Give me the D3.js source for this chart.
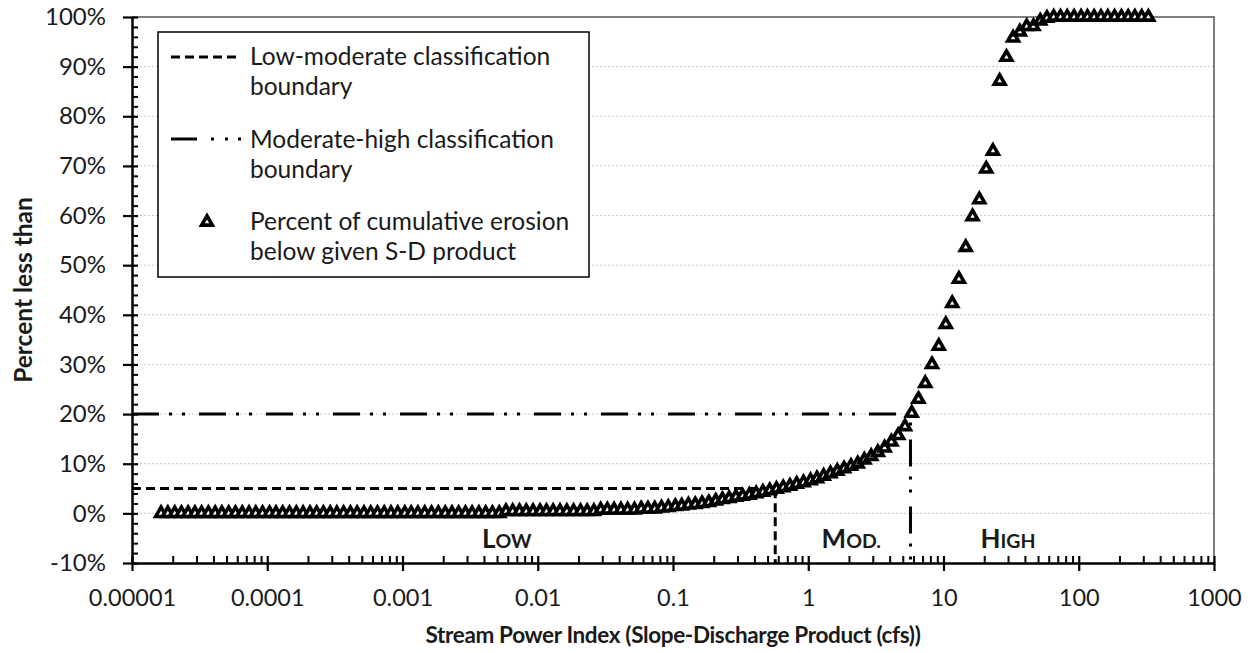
<!DOCTYPE html>
<html>
<head>
<meta charset="utf-8">
<script src="https://cdn.jsdelivr.net/npm/d3@7"></script>
<style>
  body { margin: 0; background: #fff; }
  svg { display: block; font-family: Lato, "Open Sans", sans-serif; }
</style>
</head>
<body>
<svg id="chart" width="1253" height="653"></svg>
<script>
// stream power index (cfs), one point every 0.05 decade
const xValues = [
  1.64e-5, 1.84e-5, 2.07e-5, 2.32e-5, 2.6e-5, 2.92e-5, 3.27e-5, 3.67e-5, 4.12e-5, 4.62e-5,
  5.19e-5, 5.82e-5, 6.53e-5, 7.33e-5, 8.22e-5, 9.23e-5,
  1.04e-4, 1.16e-4, 1.3e-4, 1.46e-4, 1.64e-4, 1.84e-4, 2.07e-4, 2.32e-4, 2.6e-4, 2.92e-4,
  3.27e-4, 3.67e-4, 4.12e-4, 4.62e-4, 5.19e-4, 5.82e-4, 6.53e-4, 7.33e-4, 8.22e-4, 9.23e-4,
  1.04e-3, 1.16e-3, 1.3e-3, 1.46e-3, 1.64e-3, 1.84e-3, 2.07e-3, 2.32e-3, 2.6e-3, 2.92e-3,
  3.27e-3, 3.67e-3, 4.12e-3, 4.62e-3, 5.19e-3, 5.82e-3, 6.53e-3, 7.33e-3, 8.22e-3, 9.23e-3,
  1.04e-2, 1.16e-2, 1.3e-2, 1.46e-2, 1.64e-2, 1.84e-2, 2.07e-2, 2.32e-2, 2.6e-2, 2.92e-2,
  3.27e-2, 3.67e-2, 4.12e-2, 4.62e-2, 5.19e-2, 5.82e-2, 6.53e-2, 7.33e-2, 8.22e-2, 9.23e-2,
  0.104, 0.116, 0.13, 0.146, 0.164, 0.184, 0.207, 0.232, 0.26, 0.292,
  0.327, 0.367, 0.412, 0.462, 0.519, 0.582, 0.653, 0.733, 0.822, 0.923,
  1.04, 1.16, 1.3, 1.46, 1.64, 1.84, 2.07, 2.32, 2.6, 2.92,
  3.27, 3.67, 4.12, 4.62, 5.19, 5.82, 6.53, 7.33, 8.22, 9.23,
  10.4, 11.6, 13, 14.6, 16.4, 18.4, 20.7, 23.2, 26, 29.2,
  32.7, 36.7, 41.2, 46.2, 51.9, 58.2, 65.3, 73.3, 82.2, 92.3,
  104, 116, 130, 146, 164, 184, 207, 232, 260, 292, 327
];

// percent of cumulative erosion below the given S-D product
const pctValues = [
  0, 0, 0, 0, 0, 0, 0, 0, 0, 0,
  0, 0, 0, 0, 0, 0, 0, 0, 0, 0,
  0, 0, 0, 0, 0, 0, 0, 0, 0, 0,
  0, 0, 0, 0, 0, 0, 0, 0, 0, 0,
  0, 0, 0, 0, 0, 0, 0, 0, 0, 0,
  0, 0.4, 0.4, 0.4, 0.4, 0.4, 0.4, 0.4, 0.4, 0.4,
  0.4, 0.4, 0.4, 0.4, 0.4, 0.7, 0.7, 0.7, 0.7, 0.7,
  0.7, 0.9, 0.9, 0.9, 1.1, 1.2, 1.4, 1.5, 1.7, 1.8,
  2.0, 2.2, 2.5, 2.8, 3.0, 3.3, 3.5, 3.7, 4.0, 4.3,
  4.6, 4.9, 5.2, 5.5, 5.9, 6.2, 6.6, 7.0, 7.5, 8.0,
  8.5, 9.0, 9.5, 10.0, 10.8, 11.5, 12.3, 13.2, 14.4, 15.7,
  17.5, 20.2, 23.0, 26.2, 30.0, 33.7, 38.1, 42.3, 47.2, 53.6,
  59.8, 63.2, 69.4, 73.0, 87.1, 91.9, 95.8, 97.0, 98.1, 98.1,
  99.2, 99.8, 100, 100, 100, 100, 100, 100, 100, 100,
  100, 100, 100, 100, 100, 100, 100
];

const xTickValues = [1e-5, 1e-4, 1e-3, 1e-2, 1e-1, 1, 10, 100, 1000];
const xTickLabels = ["0.00001", "0.0001", "0.001", "0.01", "0.1", "1", "10", "100", "1000"];
const yTickValues = [-10, 0, 10, 20, 30, 40, 50, 60, 70, 80, 90, 100];

// classification boundaries (S-D product, percent)
const boundaryNames = ["Low-moderate", "Moderate-high"];
const boundaryX = [0.57, 5.7];
const boundaryY = [5, 20];

// zone labels (small caps: first letter + rest)
const zoneFirst = ["L", "M", "H"];
const zoneRest = ["OW", "OD.", "IGH"];
const zoneX = [0.0059, 2.08, 30];
const zoneY = [-7, -7, -7];

const legendLines = [
  ["Low-moderate classification", "boundary"],
  ["Moderate-high classification", "boundary"],
  ["Percent of cumulative erosion", "below given S-D product"]
];

const width = 1253;
const height = 653;
const margin = { top: 17, right: 39, bottom: 90, left: 132 };
const plotW = width - margin.left - margin.right;
const plotH = height - margin.top - margin.bottom;

const textColor = "#1a1a1a";
const dashStyles = ["9,5", "27,10,3,10,3,14"];

const svg = d3.select("#chart");
svg.append("rect").attr("width", width).attr("height", height).attr("fill", "#fff");

const g = svg.append("g").attr("transform", `translate(${margin.left},${margin.top})`);

const x = d3.scaleLog().domain([1e-5, 1e3]).range([0, plotW]);
const y = d3.scaleLinear().domain([-10, 100]).range([plotH, 0]);

// horizontal gridlines
g.append("g")
  .selectAll("line")
  .data(yTickValues.filter((v) => v > -10 && v < 100))
  .join("line")
  .attr("x1", 0)
  .attr("x2", plotW)
  .attr("y1", (d) => y(d))
  .attr("y2", (d) => y(d))
  .attr("stroke", "#c4c4c4")
  .attr("stroke-width", 1)
  .attr("stroke-dasharray", "2,2");

// plot frame, top and right
g.append("path")
  .attr("d", `M0,${y(100)}H${plotW}V${plotH}`)
  .attr("fill", "none")
  .attr("stroke", "#555")
  .attr("stroke-width", 1.5);

// boundary lines
g.append("g")
  .selectAll("path")
  .data(boundaryNames)
  .join("path")
  .attr("d", (d, i) => `M${x(1e-5)},${y(boundaryY[i])}H${x(boundaryX[i])}V${y(-10)}`)
  .attr("fill", "none")
  .attr("stroke", "#000")
  .attr("stroke-width", 3)
  .attr("stroke-dasharray", (d, i) => dashStyles[i]);

// zone labels
const zones = g.append("g")
  .selectAll("text")
  .data(zoneFirst)
  .join("text")
  .attr("x", (d, i) => x(zoneX[i]))
  .attr("y", (d, i) => y(zoneY[i]))
  .attr("text-anchor", "middle")
  .attr("font-weight", "bold")
  .attr("fill", textColor);
zones.append("tspan").attr("font-size", 26).text((d) => d);
zones.append("tspan").attr("font-size", 19.5).text((d, i) => zoneRest[i]);

// triangles
const tri = d3.symbol().type(d3.symbolTriangle).size(50);
g.append("g")
  .selectAll("path")
  .data(pctValues)
  .join("path")
  .attr("d", tri)
  .attr("transform", (d, i) => `translate(${x(xValues[i])},${y(d)})`)
  .attr("fill", "#fff")
  .attr("stroke", "#000")
  .attr("stroke-width", 3.6);

// x axis
const xMinor = [];
xTickValues.slice(0, -1).forEach((d) => {
  for (let m = 2; m < 10; m++) xMinor.push(d * m);
});

g.append("g")
  .attr("transform", `translate(0,${plotH})`)
  .call(d3.axisTop(x).tickValues(xMinor).tickSize(7).tickFormat(""))
  .call((a) => a.select(".domain").remove())
  .selectAll("line")
  .attr("stroke", "#000")
  .attr("stroke-width", 2);

const xAxis = g.append("g")
  .attr("transform", `translate(0,${plotH})`)
  .call(d3.axisBottom(x).tickValues(xTickValues).tickFormat((d, i) => xTickLabels[i]).tickSize(8).tickSizeOuter(0));
xAxis.select(".domain").attr("stroke", "#000").attr("stroke-width", 2.5);
xAxis.selectAll(".tick line").attr("y1", -7).attr("stroke", "#000").attr("stroke-width", 2.2);
xAxis.selectAll(".tick text")
  .attr("y", 43)
  .attr("dy", 0)
  .attr("font-size", 23.5)
  .attr("font-family", "Lato, sans-serif")
  .attr("fill", textColor);

// y axis
const yMinor = d3.range(-10, 100, 2).filter((v) => v % 10 !== 0);
g.append("g")
  .call(d3.axisRight(y).tickValues(yMinor).tickSize(6).tickFormat(""))
  .call((a) => a.select(".domain").remove())
  .selectAll("line")
  .attr("stroke", "#000")
  .attr("stroke-width", 2);

const yAxis = g.append("g")
  .call(d3.axisLeft(y).tickValues(yTickValues).tickFormat((d) => d + "%").tickSize(9).tickSizeOuter(0).tickPadding(17));
yAxis.select(".domain").attr("stroke", "#000").attr("stroke-width", 2.5);
yAxis.selectAll(".tick line").attr("x1", 6).attr("stroke", "#000").attr("stroke-width", 2.2);
yAxis.selectAll(".tick text")
  .attr("font-size", 24)
  .attr("font-family", "Lato, sans-serif")
  .attr("fill", textColor);

// axis titles
svg.append("text")
  .attr("x", margin.left + plotW / 2)
  .attr("y", 643)
  .attr("text-anchor", "middle")
  .attr("font-weight", "bold")
  .attr("font-size", 22.5)
  .attr("letter-spacing", -0.35)
  .attr("fill", textColor)
  .text("Stream Power Index (Slope-Discharge Product (cfs))");

svg.append("text")
  .attr("transform", `translate(32,${margin.top + plotH / 2}) rotate(-90)`)
  .attr("text-anchor", "middle")
  .attr("font-weight", "bold")
  .attr("font-size", 24.5)
  .attr("fill", textColor)
  .text("Percent less than");

// legend
const legend = svg.append("g");
legend.append("rect")
  .attr("x", 158)
  .attr("y", 32)
  .attr("width", 431)
  .attr("height", 245)
  .attr("fill", "#fff")
  .attr("stroke", "#000")
  .attr("stroke-width", 1.5);

const entryTop = [65, 148, 230];
legendLines.forEach((lines, i) => {
  const t = legend.append("text")
    .attr("x", 250)
    .attr("y", entryTop[i])
    .attr("font-size", 24.5)
    .attr("fill", textColor);
  lines.forEach((s, j) => {
    t.append("tspan").attr("x", 250).attr("y", entryTop[i] + j * 30).text(s);
  });
});

legend.append("line")
  .attr("x1", 171).attr("x2", 238)
  .attr("y1", 57).attr("y2", 57)
  .attr("stroke", "#000").attr("stroke-width", 3)
  .attr("stroke-dasharray", dashStyles[0]);
legend.append("line")
  .attr("x1", 171).attr("x2", 242)
  .attr("y1", 139).attr("y2", 139)
  .attr("stroke", "#000").attr("stroke-width", 3)
  .attr("stroke-dasharray", "26,14,3,11,3,10,3,30");
legend.append("path")
  .attr("d", tri)
  .attr("transform", "translate(207,222)")
  .attr("fill", "#fff")
  .attr("stroke", "#000")
  .attr("stroke-width", 3.6);
</script>
</body>
</html>
